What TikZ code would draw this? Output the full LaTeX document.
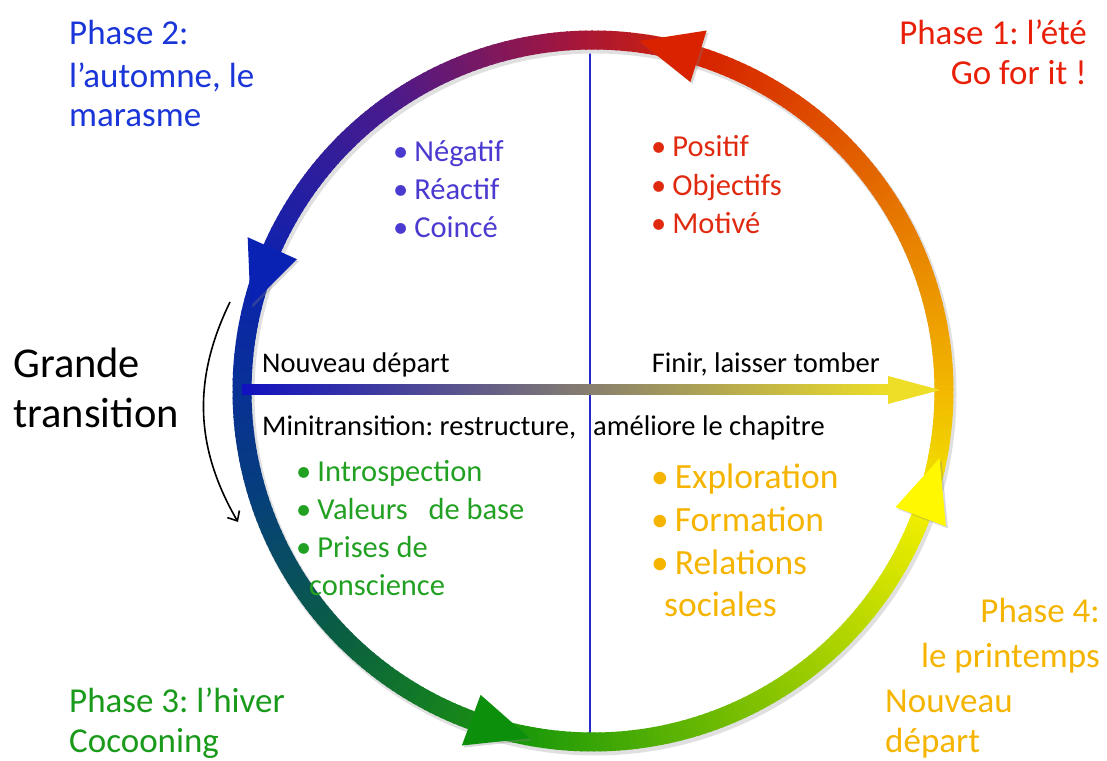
\documentclass[tikz,border=0pt]{standalone}
\usepackage{fontspec}
\setmainfont{Carlito}
\usetikzlibrary{arrows.meta,positioning,shadows}
\frenchspacing

% wheel colours, counter-clockwise from the bottom
\definecolor{rgA}{HTML}{1E9A08}
\definecolor{rgB}{HTML}{86C400}
\definecolor{rgC}{HTML}{F0EE00}
\definecolor{rgD}{HTML}{F2B800}
\definecolor{rgE}{HTML}{E46C00}
\definecolor{rgF}{HTML}{D62200}
\definecolor{rgG}{HTML}{A01640}
\definecolor{rgH}{HTML}{4A1A8C}
\definecolor{rgI}{HTML}{0C22B0}
\definecolor{rgJ}{HTML}{063C80}
\definecolor{rgK}{HTML}{0A6040}
\definecolor{hdred}{HTML}{D82200}
\definecolor{hdblue}{HTML}{0A22B4}
\definecolor{hdgrn}{HTML}{0C900C}
\definecolor{hdyel}{HTML}{FFF800}
\definecolor{shblue}{HTML}{1010C0}
\definecolor{shgray}{HTML}{857C6C}
\definecolor{shyel}{HTML}{EEDE28}
\definecolor{axblue}{HTML}{2828C8}
\definecolor{ph1col}{HTML}{E8200A}
\definecolor{ph2col}{HTML}{1A35D8}
\definecolor{ph3col}{HTML}{1A9A1A}
\definecolor{ph4col}{HTML}{F5B400}
\definecolor{bl2col}{HTML}{4A3AD0}
\definecolor{bl1col}{HTML}{E02A10}
\definecolor{bl3col}{HTML}{22A022}

\newcommand\bul{•\hspace{6pt}}

\tikzset{
  ringseg/.style={line width=19pt, line cap=butt},
  headtri/.style={drop shadow={shadow xshift=2pt, shadow yshift=-2pt, opacity=.3}},
  phasetxt/.style={font=\fontsize{35}{42}\selectfont, inner sep=0pt},
  bullettxt/.style={font=\fontsize{30.5}{36}\selectfont, inner sep=0pt, anchor=base west},
  bigbullet/.style={font=\fontsize{35.5}{42}\selectfont, inner sep=0pt, anchor=base west},
  lbl/.style={font=\fontsize{28.5}{34}\selectfont, inner sep=0pt, anchor=base west},
  bigtxt/.style={font=\fontsize{42.5}{50}\selectfont, inner sep=0pt, anchor=base west},
}

\begin{document}
\begin{tikzpicture}[x=1pt, y=1pt, >=Latex]
  \useasboundingbox (0,0) rectangle (1107,760);
  \coordinate (ctr) at (593,369);
  \coordinate (top) at (590,710);
  \coordinate (bot) at (590,22);
  \coordinate (west) at (242,370);
  \coordinate (east) at (940,370);
  \coordinate (gt-top) at (230,458);
  \coordinate (gt-bot) at (238,238);

  \draw[axblue, line width=2pt] (top) -- (bot);

  % soft shadow under the wheel
  \draw[black!12, line width=21pt] ([shift={(2,-3)}]ctr) circle[radius=351];

  \begin{scope}[shift={(ctr)}]
    % colour wheel, one degree at a time
    \foreach \a/\b/\ca/\cb in {-100/-60/rgA/rgB, -60/-21/rgB/rgC, -21/0/rgC/rgD,
        0/35/rgD/rgE, 35/72/rgE/rgF, 72/95/rgF/rgG, 95/125/rgG/rgH,
        125/160/rgH/rgI, 160/195/rgI/rgJ, 195/225/rgJ/rgK, 225/260/rgK/rgA}{
      \pgfmathtruncatemacro\n{\b-\a}
      \foreach \i in {1,...,\n}{
        \pgfmathsetmacro\s{\a+\i-1}
        \pgfmathsetmacro\e{\a+\i+0.3}
        \pgfmathsetmacro\p{100*(\i-0.5)/\n}
        \draw[ringseg, color=\cb!\p!\ca] (\s:351) arc[start angle=\s, end angle=\e, radius=351];
      }
    }
    % heads on the wheel
    \foreach \t/\c in {72.5/hdred, 156/hdblue, 249.7/hdgrn, 339/hdyel}
      \fill[headtri, \c] (\t:378) -- (\t:324) -- (\t+10:353) -- cycle;
  \end{scope}

  % horizontal arrow
  \shade[left color=shblue, middle color=shgray, right color=shyel]
    ([yshift=-5]west) rectangle ([xshift=-50,yshift=5]east);
  \fill[shyel] ([xshift=-52,yshift=14]east) -- (east) -- ([xshift=-52,yshift=-14]east) -- cycle;

  \draw[line width=1.6pt, -{Straight Barb[length=8pt,width=14pt]}] (gt-top) to[bend right=28] (gt-bot);

  % phases
  \foreach \y/\t [count=\k] in {715/Phase 2:, 672/{l’automne, le}, 633/marasme}
    \node[phasetxt, anchor=base west, text=ph2col] (ph2-\k) at (69,\y) {\t};
  \foreach \y/\t [count=\k] in {715/Phase 1: l’été, 675/Go for it !}
    \node[phasetxt, anchor=base east, text=ph1col] (ph1-\k) at (1087,\y) {\t};
  \foreach \y/\t [count=\k] in {48/Phase 3: l’hiver, 8/Cocooning}
    \node[phasetxt, anchor=base west, text=ph3col] (ph3-\k) at (69,\y) {\t};
  \node[phasetxt, anchor=base east, text=ph4col] (ph4-1) at (1100,138) {Phase 4:};
  \node[phasetxt, anchor=base east, text=ph4col] (ph4-2) at (1100,93) {le printemps};
  \node[phasetxt, anchor=base west, text=ph4col] (ph4-3) at (885,48) {Nouveau};
  \node[phasetxt, anchor=base west, text=ph4col] (ph4-4) at (885,8) {départ};

  % bullet lists
  \foreach \y/\t [count=\k] in {598/Négatif, 560/Réactif, 522/Coincé}
    \node[bullettxt, text=bl2col] (neg-\k) at (393,\y) {\bul\t};
  \foreach \y/\t [count=\k] in {603/Positif, 564/Objectifs, 526/Motivé}
    \node[bullettxt, text=bl1col] (pos-\k) at (651,\y) {\bul\t};
  \foreach \y/\t [count=\k] in {278/Introspection, 240/Valeurs\ \ \ de base, 202/Prises de}
    \node[bullettxt, text=bl3col] (intro-\k) at (296,\y) {\bul\t};
  \node[bullettxt, text=bl3col] (intro-4) at (309,164) {conscience};
  \foreach \y/\t [count=\k] in {271/Exploration, 228/Formation, 185/Relations}
    \node[bigbullet, text=ph4col] (expl-\k) at (651,\y) {\bul\t};
  \node[bigbullet, text=ph4col] (expl-4) at (664,143) {sociales};

  % labels on the axes
  \node[lbl] (nouveau) at (262,387) {Nouveau départ};
  \node[lbl, anchor=base east] (finir) at (880,387) {Finir, laisser tomber};
  \node[lbl] (mini) at (262,324) {Minitransition: restructure,};
  \node[lbl] (ameliore) at (593,324) {améliore le chapitre};
  \node[bigtxt] (grande) at (13,382) {Grande};
  \node[bigtxt] (transition) at (13,332) {transition};
\end{tikzpicture}
\end{document}
